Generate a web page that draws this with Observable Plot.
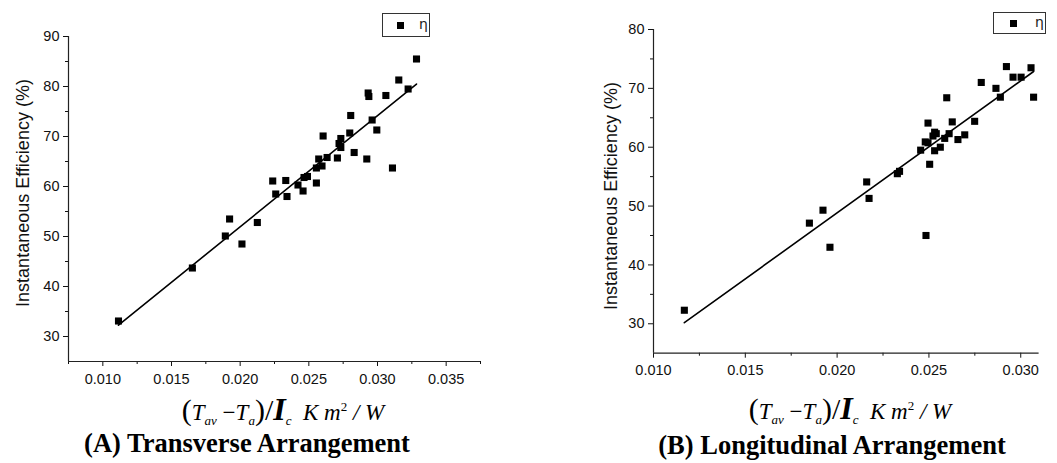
<!DOCTYPE html>
<html>
<head>
<meta charset="utf-8">
<script src="https://cdn.jsdelivr.net/npm/d3@7"></script>
<script src="https://cdn.jsdelivr.net/npm/@observablehq/plot@0.6"></script>
<style>
  html, body { margin: 0; padding: 0; background: #fff; }
  #page { position: relative; width: 1057px; height: 463px; overflow: hidden; background: #fff; }
  .panel { position: absolute; top: 0; }
  .ytitle {
    position: absolute; font-family: "Liberation Sans", Arial, sans-serif; font-size: 18px;
    white-space: nowrap; transform: translate(-50%, -50%) rotate(-90deg); color: #111;
  }
  .xtitle {
    position: absolute; font-family: "Liberation Serif", "Times New Roman", serif; font-size: 23px;
    white-space: nowrap; transform: translate(-50%, -50%); color: #000;
  }
  .xtitle i { font-style: italic; }
  .xtitle sub { font-size: 13px; font-style: italic; vertical-align: -5px; }
  .xtitle sup { font-size: 13px; vertical-align: 9px; }
  .xtitle .br { font-size: 30px; font-weight: 300; }
  .xtitle .big { font-size: 32px; font-weight: bold; font-style: italic; }
  .caption {
    position: absolute; font-family: "Liberation Serif", "Times New Roman", serif; font-size: 26.5px;
    font-weight: bold; white-space: nowrap; transform: translate(-50%, -50%); color: #000;
  }
  .legend {
    position: absolute; border: 1px solid #333; background: #fff; box-sizing: border-box;
    font-family: "DejaVu Sans", sans-serif; font-size: 14px; color: #222;
  }
  .legend .sw { position: absolute; width: 7px; height: 7px; background: #000; }
  .legend .lb { position: absolute; }
</style>
</head>
<body>
<div id="page"></div>
<script>
// (A) transverse arrangement: reduced temperature parameter vs. instantaneous efficiency
const transverseX = [0.01114, 0.01652, 0.01892, 0.01923, 0.02013, 0.02125, 0.02237, 0.02259, 0.02332, 0.02341,
  0.02421, 0.02458, 0.02465, 0.02490, 0.02555, 0.02555, 0.02572, 0.02596, 0.02604, 0.02633,
  0.02708, 0.02720, 0.02733, 0.02733, 0.02798, 0.02805, 0.02830, 0.02922, 0.02932, 0.02937,
  0.02961, 0.02995, 0.03061, 0.03109, 0.03155, 0.03223, 0.03284];
const transverseEta = [33.1, 43.7, 50.1, 53.5, 48.5, 52.8, 61.1, 58.5, 61.2, 58.0,
  60.3, 59.1, 61.8, 62.0, 63.7, 60.7, 65.5, 64.1, 70.1, 65.8,
  65.7, 68.6, 69.6, 67.8, 70.7, 74.2, 66.8, 65.5, 78.7, 78.0,
  73.3, 71.3, 78.2, 63.7, 81.3, 79.5, 85.5];

// (B) longitudinal arrangement
const longitudinalX = [0.01168, 0.01849, 0.01923, 0.01961, 0.02161, 0.02174, 0.02328, 0.02340, 0.02455, 0.02480,
  0.02484, 0.02495, 0.02495, 0.02504, 0.02522, 0.02531, 0.02540, 0.02531, 0.02562, 0.02586,
  0.02610, 0.02627, 0.02597, 0.02658, 0.02695, 0.02749, 0.02785, 0.02865, 0.02889, 0.02922,
  0.02958, 0.03002, 0.03056, 0.03070];
const longitudinalEta = [32.3, 47.1, 49.3, 43.0, 54.1, 51.3, 55.5, 55.9, 59.5, 60.9,
  45.0, 64.1, 60.75, 57.1, 61.9, 62.55, 62.3, 59.4, 60.0, 61.5,
  62.3, 64.3, 68.4, 61.3, 62.1, 64.4, 71.0, 70.0, 68.5, 73.7,
  71.9, 71.9, 73.5, 68.5];

// axis ticks
const leftXMajor = [0.010, 0.015, 0.020, 0.025, 0.030, 0.035];
const leftXMinor = [0.0075, 0.0125, 0.0175, 0.0225, 0.0275, 0.0325, 0.0375];
const leftYMajor = [30, 40, 50, 60, 70, 80, 90];
const leftYMinor = [35, 45, 55, 65, 75, 85];
const rightXMajor = [0.010, 0.015, 0.020, 0.025, 0.030];
const rightXMinor = [0.0125, 0.0175, 0.0225, 0.0275];
const rightYMajor = [30, 40, 50, 60, 70, 80];
const rightYMinor = [35, 45, 55, 65, 75];

const legendLabel = "η";
const yTitle = "Instantaneous Efficiency (%)";
const captions = ["(A) Transverse Arrangement", "(B) Longitudinal Arrangement"];

const page = document.getElementById("page");

function panel(cfg) {
  const data = cfg.xs.map((x, i) => ({x, eta: cfg.ys[i]}));
  const chart = Plot.plot({
    width: cfg.width, height: cfg.height,
    marginLeft: cfg.ml, marginRight: cfg.mr, marginTop: cfg.mt, marginBottom: cfg.mb,
    style: {fontFamily: "'Liberation Sans', Arial, sans-serif", fontSize: "14.5px", color: "#111", background: "transparent", overflow: "visible"},
    x: {domain: cfg.xDomain},
    y: {domain: cfg.yDomain},
    marks: [
      Plot.axisX({ticks: cfg.xMajor, tickSize: 5, tickPadding: 7, tickFormat: d3.format(".3f"), label: null}),
      Plot.axisX({ticks: cfg.xMinor, tickSize: 3, tickFormat: () => "", label: null}),
      Plot.axisY({ticks: cfg.yMajor, tickSize: 5, tickPadding: 4, tickFormat: d3.format("d"), label: null}),
      Plot.axisY({ticks: cfg.yMinor, tickSize: 3, tickFormat: () => "", label: null}),
      Plot.ruleY([cfg.yDomain[0]], {stroke: "#222", strokeWidth: 1.2}),
      Plot.ruleX([cfg.xDomain[0]], {stroke: "#222", strokeWidth: 1.2}),
      Plot.linearRegressionY(data, {x: "x", y: "eta", ci: 0, stroke: "#000", strokeWidth: 1.6}),
      Plot.dot(data, {x: "x", y: "eta", symbol: "square", r: 4, fill: "#000", stroke: "none"})
    ]
  });
  chart.classList.add("panel");
  chart.style.left = cfg.left + "px";
  page.appendChild(chart);
}

panel({
  xs: transverseX, ys: transverseEta, left: 0, width: 490, height: 400,
  ml: 68, mr: 10, mt: 36, mb: 39,
  xDomain: [0.0075, 0.0375], yDomain: [25, 90],
  xMajor: leftXMajor, xMinor: leftXMinor, yMajor: leftYMajor, yMinor: leftYMinor
});
panel({
  xs: longitudinalX, ys: longitudinalEta, left: 560, width: 497, height: 400,
  ml: 93, mr: 18.4, mt: 29, mb: 47.3,
  xDomain: [0.010, 0.031], yDomain: [25, 80],
  xMajor: rightXMajor, xMinor: rightXMinor, yMajor: rightYMajor, yMinor: rightYMinor
});

function addText(cls, html, x, y) {
  const d = document.createElement("div");
  d.className = cls;
  d.innerHTML = html;
  d.style.left = x + "px";
  d.style.top = y + "px";
  page.appendChild(d);
}

const xTitleHtml = '<span class="br">(</span><i>T</i><sub>av</sub> &minus;<i>T</i><sub>a</sub><span class="br">)</span>' +
  '<span class="br">/</span><span class="big">I</span><sub>c</sub>&nbsp;&nbsp;<i>K m</i><sup>2</sup> <i>/ W</i>';

addText("ytitle", yTitle, 22.5, 193);
addText("ytitle", yTitle, 611, 196);
addText("xtitle", xTitleHtml, 283, 410);
addText("xtitle", xTitleHtml, 850, 409);
addText("caption", captions[0], 247, 443);
addText("caption", captions[1], 832, 445);

function legend(x, y, w, h, sx, lx) {
  const d = document.createElement("div");
  d.className = "legend";
  Object.assign(d.style, {left: x + "px", top: y + "px", width: w + "px", height: h + "px"});
  const sw = document.createElement("div");
  sw.className = "sw";
  Object.assign(sw.style, {left: sx + "px", top: (h / 2 - 4.5) + "px"});
  const lb = document.createElement("div");
  lb.className = "lb";
  lb.textContent = legendLabel;
  Object.assign(lb.style, {left: lx + "px", top: (h / 2 - 10) + "px"});
  d.appendChild(sw);
  d.appendChild(lb);
  page.appendChild(d);
}
legend(382, 13, 48, 24, 14, 36);
legend(993, 12, 53, 22, 16, 41);
</script>
</body>
</html>
